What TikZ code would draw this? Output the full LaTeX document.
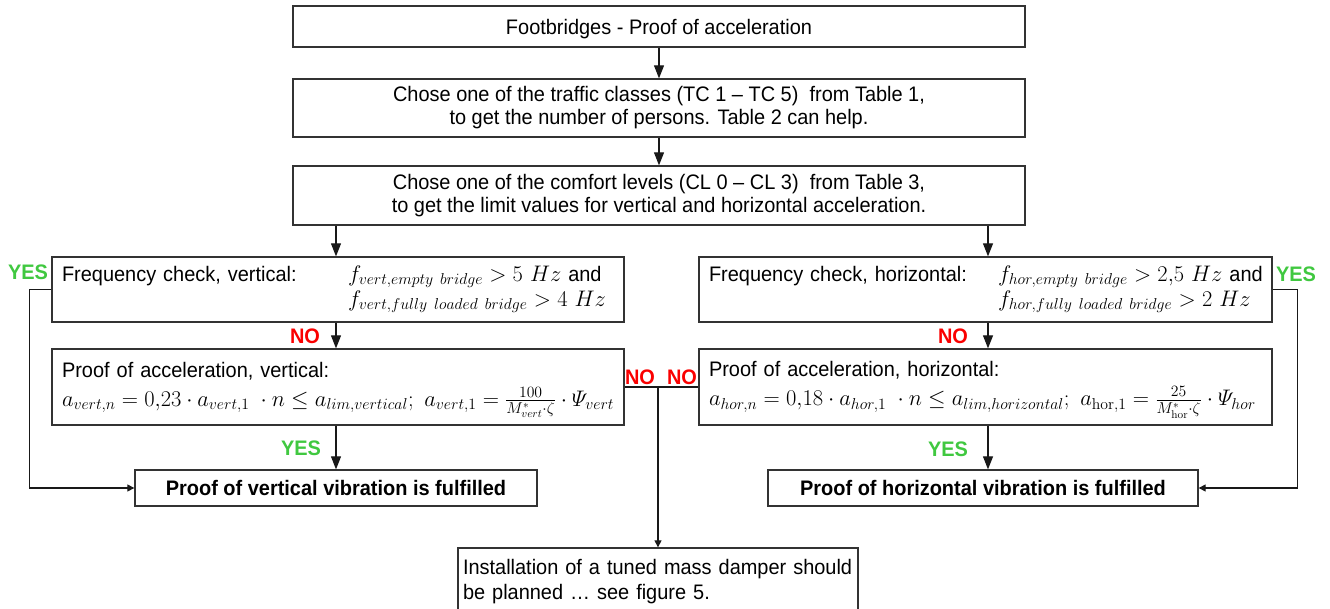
\RequirePackage{fix-cm}
\documentclass[tikz,border=0pt]{standalone}
\usepackage{amsmath}
\usepackage[no-math]{fontspec}
\setmainfont{Liberation Sans}[FakeStretch=0.95]
\usetikzlibrary{arrows.meta}
\definecolor{yesgreen}{RGB}{64,200,64}
\definecolor{nored}{RGB}{250,0,0}
\newcommand{\bigmath}[1]{{\fontsize{22.5}{27}\selectfont$#1$}}
\tikzset{
    >={Triangle[width=10pt,length=13pt]},
    flow/.style={
        box/.append style={draw=black!80,line width=1.3pt,rectangle,inner xsep=10pt,inner ysep=0pt,font=\fontsize{21}{23}\selectfont},
        lower/.append style={execute at begin node={\rule{0pt}{20pt}}},
        done/.append style={box,align=center,font=\fontsize{21}{23}\selectfont\bfseries},
        yes/.append style={text=yesgreen,font=\fontsize{21}{23}\selectfont\bfseries,inner sep=0pt},
        no/.append style={text=nored,font=\fontsize{21}{23}\selectfont\bfseries,inner sep=0pt},
        link/.append style={draw=black!90,line width=1.1pt},
        small/.append style={-{Triangle[width=7pt,length=7pt]}}
    }
}

\begin{document}
\begin{tikzpicture}[flow,x=1pt,y=-1pt]
    \useasboundingbox (0,0) rectangle (1330,609);
    \node[box,lower,align=center,minimum width=732pt,minimum height=41pt] (title) at (659,26.5) {Footbridges - Proof of acceleration};
    \node[box,lower,align=center,minimum width=732pt,minimum height=58pt] (traffic) at (659,108) {Chose one of the traffic classes (TC 1 -- TC 5)\ \ from Table 1,\\to get the number of persons. Table 2 can help.};
    \node[box,lower,align=center,minimum width=732pt,minimum height=59pt] (comfort) at (659,195.5) {Chose one of the comfort levels (CL 0 -- CL 3)\ \ from Table 3,\\to get the limit values for vertical and horizontal acceleration.};
    \node[box,align=left,text width=552pt,minimum height=65pt] (freqv) at (338,289.5) {\begin{tabular}{@{}p{286pt}@{}l@{}}
        Frequency check, vertical: & \bigmath{f_{vert,empty\ bridge} > 5\ Hz} and\\[2pt]
        & \bigmath{f_{vert,fully\ loaded\ bridge} > 4\ Hz}
    \end{tabular}};
    \node[box,align=left,text width=553pt,minimum height=65pt] (freqh) at (985.5,289.5) {\begin{tabular}{@{}p{289pt}@{}l@{}}
        Frequency check, horizontal: & \bigmath{f_{hor,empty\ bridge} > 2{,}5\ Hz} and\\[2pt]
        & \bigmath{f_{hor,fully\ loaded\ bridge} > 2\ Hz}
    \end{tabular}};
    \node[box,align=left,text width=552pt,minimum height=76pt] (proofv) at (338,387) {\rule{0pt}{21pt}Proof of acceleration, vertical:\\[6pt]
        \bigmath{a_{vert,n} = 0{,}23\cdot a_{vert,1}\;\cdot n \le a_{lim,vertical};\ a_{vert,1} = \frac{100}{M^{*}_{vert}\cdot\zeta}\cdot\varPsi_{vert}}};
    \node[box,align=left,text width=553pt,minimum height=76pt] (proofh) at (985.5,387) {\rule{0pt}{21pt}Proof of acceleration, horizontal:\\[6pt]
        \bigmath{a_{hor,n} = 0{,}18\cdot a_{hor,1}\;\cdot n \le a_{lim,horizontal};\ a_{\mathrm{hor},1} = \frac{25}{M^{*}_{\mathrm{hor}}\cdot\zeta}\cdot\varPsi_{hor}}};
    \node[done,minimum width=402pt,minimum height=36pt] (fulv) at (336,488) {Proof of vertical vibration is fulfilled};
    \node[done,minimum width=430pt,minimum height=36pt] (fulh) at (983,488) {Proof of horizontal vibration is fulfilled};
    \node[box,lower,align=left,text width=390pt,inner xsep=5pt,minimum height=62pt] (tmd) at (658,579) {Installation of a tuned mass damper should\\[2pt]be planned … see figure 5.};

    \node[yes] (yesfv) at (28,272) {YES};
    \node[yes] (yesfh) at (1296,274) {YES};
    \node[no] (nofv) at (305,336) {NO};
    \node[no] (nofh) at (953,336) {NO};
    \node[yes] (yespv) at (301,448) {YES};
    \node[yes] (yesph) at (948,449) {YES};
    \node[no] (nopv) at (640,377) {NO};
    \node[no] (noph) at (682,377) {NO};

    \draw[link,->] (title) -- (traffic);
    \draw[link,->] (traffic) -- (comfort);
    \draw[link,->] (comfort.south -| 336,0) -- (freqv.north -| 336,0);
    \draw[link,->] (comfort.south -| 988,0) -- (freqh.north -| 988,0);
    \draw[link,->] (freqv.south -| 336,0) -- (proofv.north -| 336,0);
    \draw[link,->] (freqh.south -| 988,0) -- (proofh.north -| 988,0);
    \draw[link,->] (proofv.south -| 336,0) -- (fulv.north -| 336,0);
    \draw[link,->] (proofh.south -| 988,0) -- (fulh.north -| 988,0);
    \draw[link,small] (freqv.west) -- ++(-22,0) |- (fulv.west);
    \draw[link,small] (freqh.east) -- ++(25,0) |- (fulh.east);
    \draw[link] (proofv.east) -- (proofh.west);
    \draw[link,small] (proofv.east -| tmd.north) -- (tmd.north);
\end{tikzpicture}
\end{document}
